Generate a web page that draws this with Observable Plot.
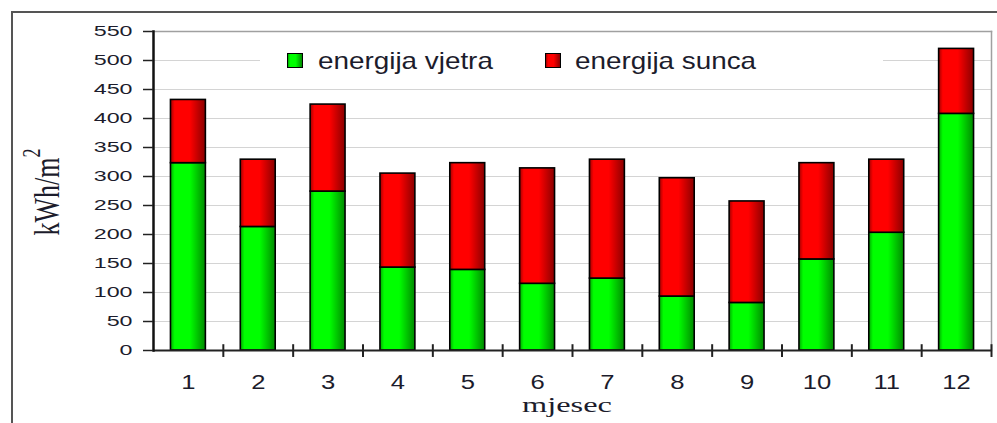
<!DOCTYPE html>
<html><head><meta charset="utf-8">
<script src="https://cdn.jsdelivr.net/npm/d3@7"></script>
<script src="https://cdn.jsdelivr.net/npm/@observablehq/plot@0.6"></script>
<style>
body{margin:0;background:#fff;}
#wrap{position:relative;width:997px;height:423px;overflow:hidden;background:#fff;font-family:"Liberation Sans",Arial,sans-serif;}
#wrap svg{position:absolute;left:0;top:0;}
#outer{position:absolute;left:11px;top:11px;width:2000px;height:2000px;border-left:2px solid #555;border-top:2px solid #555;}
#legend{position:absolute;left:260px;top:40px;width:623px;height:40px;background:#fff;}
.sw{position:absolute;width:16px;height:15px;box-sizing:border-box;border:1.5px solid #000;}
.lt{position:absolute;font-size:24px;line-height:1;white-space:nowrap;color:#1c1c2c;transform:scaleX(1.16);transform-origin:left center;}
.serif{font-family:"Liberation Serif","Times New Roman",serif;color:#1c1c2c;position:absolute;white-space:nowrap;}
</style></head>
<body><div id="wrap"><div id="outer"></div></div>
<script>
const months = [1,2,3,4,5,6,7,8,9,10,11,12];
const wind = [323,213,274,143,139,115,124,93,82,157,203,408];
const sun  = [109,116,150,162,184,199,205,204,175,166,126,112];
const yTicks = [0,50,100,150,200,250,300,350,400,450,500,550];
const seriesNames = ["energija vjetra","energija sunca"];
const xTitle = "mjesec";
const yTitle = "kWh/m";
const yTitleSup = "2";

const rows = months.map((m,i)=>({month:m, wind:wind[i], sun:sun[i]}));

const W=997,H=423,mL=153,mR=6,mT=31,mB=73;
const step=(W-mL-mR)/months.length;

const windStops=[[0,"#00a800"],[0.12,"#00ff00"],[0.55,"#00ff00"],[1,"#008a00"]];
const sunStops=[[0,"#a00000"],[0.12,"#ff0000"],[0.55,"#ff0000"],[1,"#8a0000"]];
function defsMark(){
  const d=d3.create("svg:defs");
  [["gWind",windStops],["gSun",sunStops]].forEach(([id,stops])=>{
    const g=d.append("linearGradient").attr("id",id).attr("x1",0).attr("x2",1).attr("y1",0).attr("y2",0);
    stops.forEach(([o,c])=>g.append("stop").attr("offset",o).attr("stop-color",c));
  });
  return d.node();
}

const chart = Plot.plot({
  width:W,height:H,marginLeft:mL,marginRight:mR,marginTop:mT,marginBottom:mB,
  style:{background:"transparent",fontFamily:"'Liberation Sans',Arial,sans-serif",color:"#1c1c2c",overflow:"visible"},
  x:{type:"band",domain:months,paddingInner:0.5,paddingOuter:0.25,round:false},
  y:{domain:[0,550]},
  marks:[
    defsMark,
    Plot.gridY(yTicks,{stroke:"#d4d4d4",strokeOpacity:1,strokeWidth:1}),
    Plot.frame({anchor:"top",stroke:"#a0a0a0",strokeWidth:1.5}),
    Plot.frame({anchor:"right",stroke:"#a0a0a0",strokeWidth:1.5}),
    Plot.barY(rows,{x:"month",y1:0,y2:"wind",fill:"url(#gWind)",stroke:"#000",strokeWidth:1.6}),
    Plot.barY(rows,{x:"month",y1:"wind",y2:d=>d.wind+d.sun,fill:"url(#gSun)",stroke:"#000",strokeWidth:1.6}),
    Plot.ruleX(months,{x:d=>d,dx:step/2,y1:-12,y2:10,stroke:"#222",strokeWidth:2}),
    Plot.ruleY([0],{stroke:"#222",strokeWidth:2}),
    Plot.frame({anchor:"left",stroke:"#111",strokeWidth:2.5}),
    Plot.axisY(yTicks,{tickSize:10,tickPadding:11,fontSize:15,label:null,stroke:"#222",strokeWidth:1.5}),
    Plot.axisX({tickSize:0,tickPadding:24,fontSize:20,label:null})
  ]
});
const wrap=document.getElementById("wrap");
wrap.appendChild(chart);

function stretch(sel,k){
  chart.querySelectorAll(sel).forEach(t=>{
    const L=t.getComputedTextLength();
    t.setAttribute("textLength",L*k);
    t.setAttribute("lengthAdjust","spacingAndGlyphs");
  });
}
stretch('g[aria-label="y-axis tick label"] text',1.55);
stretch('g[aria-label="x-axis tick label"] text',1.28);

// legend
const legend=document.createElement("div");
legend.id="legend";
wrap.appendChild(legend);
const legItems=[
  {name:seriesNames[0],bg:"linear-gradient(to right,#00a800,#00ff00 15%,#00ff00 55%,#008a00)",sx:287,tx:318},
  {name:seriesNames[1],bg:"linear-gradient(to right,#a00000,#ff0000 15%,#ff0000 55%,#8a0000)",sx:545,tx:575}
];
legItems.forEach(it=>{
  const s=document.createElement("div");
  s.className="sw";s.style.left=(it.sx-260)+"px";s.style.top="13px";s.style.background=it.bg;
  legend.appendChild(s);
  const t=document.createElement("div");
  t.className="lt";t.textContent=it.name;t.style.left=(it.tx-260)+"px";t.style.top="9px";
  legend.appendChild(t);
});

// axis titles
const xt=document.createElement("div");
xt.className="serif";xt.textContent=xTitle;
xt.style.fontSize="22px";xt.style.lineHeight="0.65";xt.style.left="567px";xt.style.top="397.5px";
xt.style.transform="translateX(-50%) scaleX(1.47)";
wrap.appendChild(xt);

const yt=document.createElement("div");
yt.className="serif";yt.style.lineHeight="1";
yt.innerHTML=yTitle+'<span style="font-size:0.7em;position:relative;top:-0.75em;">'+yTitleSup+'</span>';
yt.style.fontSize="26px";yt.style.left="48px";yt.style.top="192px";
yt.style.transform="translate(-50%,-50%) rotate(-90deg) scaleY(1.4)";
wrap.appendChild(yt);
</script>
</body></html>
